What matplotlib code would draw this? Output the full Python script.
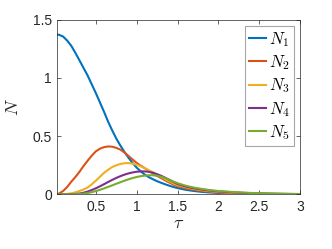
import matplotlib.pyplot as plt

# sample points along tau
tau = [0.0, 0.05, 0.1, 0.15, 0.2, 0.25, 0.3, 0.35, 0.4, 0.45, 0.5,
       0.55, 0.6, 0.65, 0.7, 0.75, 0.8, 0.85, 0.9, 0.95, 1.0,
       1.05, 1.1, 1.15, 1.2, 1.25, 1.3, 1.35, 1.4, 1.45, 1.5,
       1.6, 1.7, 1.8, 1.9, 2.0, 2.2, 2.4, 2.6, 2.8, 3.0]

N1 = [1.375, 1.37, 1.355, 1.32, 1.275, 1.215, 1.15, 1.085, 1.02, 0.945, 0.87,
      0.79, 0.71, 0.625, 0.55, 0.48, 0.42, 0.365, 0.315, 0.27, 0.23,
      0.198, 0.17, 0.148, 0.13, 0.114, 0.10, 0.087, 0.075, 0.064, 0.055,
      0.04, 0.03, 0.022, 0.017, 0.013, 0.008, 0.005, 0.003, 0.002, 0.001]
N2 = [0.0, 0.008, 0.03, 0.065, 0.11, 0.15, 0.195, 0.245, 0.29, 0.333, 0.37,
      0.393, 0.406, 0.412, 0.41, 0.40, 0.385, 0.36, 0.33, 0.30, 0.27,
      0.247, 0.225, 0.203, 0.18, 0.16, 0.14, 0.12, 0.102, 0.085, 0.07,
      0.052, 0.04, 0.03, 0.023, 0.018, 0.011, 0.007, 0.004, 0.003, 0.002]
N3 = [0.0, 0.0, 0.002, 0.005, 0.01, 0.018, 0.03, 0.043, 0.06, 0.087, 0.118,
      0.152, 0.185, 0.212, 0.235, 0.25, 0.262, 0.268, 0.27, 0.265, 0.255,
      0.242, 0.226, 0.208, 0.19, 0.17, 0.15, 0.13, 0.112, 0.095, 0.08,
      0.062, 0.048, 0.037, 0.029, 0.022, 0.014, 0.009, 0.006, 0.004, 0.003]
N4 = [0.0, 0.0, 0.0, 0.0, 0.002, 0.004, 0.008, 0.015, 0.025, 0.038, 0.053,
      0.07, 0.088, 0.107, 0.125, 0.142, 0.157, 0.17, 0.181, 0.189, 0.195,
      0.198, 0.198, 0.194, 0.186, 0.174, 0.16, 0.143, 0.125, 0.107, 0.09,
      0.068, 0.053, 0.042, 0.033, 0.026, 0.017, 0.011, 0.007, 0.005, 0.003]
N5 = [0.0, 0.0, 0.0, 0.0, 0.001, 0.002, 0.004, 0.007, 0.012, 0.02, 0.029,
      0.04, 0.052, 0.065, 0.078, 0.092, 0.105, 0.118, 0.13, 0.141, 0.15,
      0.157, 0.162, 0.165, 0.165, 0.16, 0.152, 0.14, 0.126, 0.11, 0.097,
      0.075, 0.059, 0.047, 0.037, 0.030, 0.020, 0.013, 0.009, 0.006, 0.004]

series = [N1, N2, N3, N4, N5]
labels = ['$N_1$', '$N_2$', '$N_3$', '$N_4$', '$N_5$']
colors = ['#0072BD', '#D95319', '#EDB120', '#7E2F8E', '#77AC30']

xticks = [0.5, 1, 1.5, 2, 2.5, 3]
yticks = [0, 0.5, 1, 1.5]
ytick_labels = ['0', '0.5', '1', '1.5']

plt.rcParams['font.family'] = ['Liberation Sans', 'DejaVu Sans']
plt.rcParams['mathtext.fontset'] = 'cm'

fig = plt.figure(figsize=(3.32, 2.49), dpi=100)
ax = fig.add_axes([0.173, 0.219, 0.731, 0.702])

for y, lab, c in zip(series, labels, colors):
    ax.plot(tau, y, color=c, lw=1.5, label=lab)

ax.set_xlim(0.03, 3)
ax.set_ylim(0, 1.5)
ax.set_xticks(xticks)
ax.set_xticklabels([('%g' % t) for t in xticks])
ax.set_yticks(yticks)
ax.set_yticklabels(ytick_labels)

axis_col = '#262626'
for s in ax.spines.values():
    s.set_color(axis_col)
    s.set_linewidth(0.5)
ax.tick_params(direction='in', top=True, right=True, length=3, width=0.5,
               color=axis_col, labelcolor=axis_col, labelsize=10, pad=4)

ax.set_xlabel(r'$\tau$', fontsize=13, color=axis_col, labelpad=1)
ax.set_ylabel(r'$N$', fontsize=13, color=axis_col, labelpad=8)

leg = ax.legend(loc='upper right', fontsize=12, handlelength=1.0,
                handletextpad=0.2, labelspacing=0.27, borderpad=0.25,
                borderaxespad=0.35, fancybox=False, framealpha=1)
leg.get_frame().set_edgecolor('#a6a6a6')
leg.get_frame().set_linewidth(0.8)

fig.savefig('out.png', dpi=100)
